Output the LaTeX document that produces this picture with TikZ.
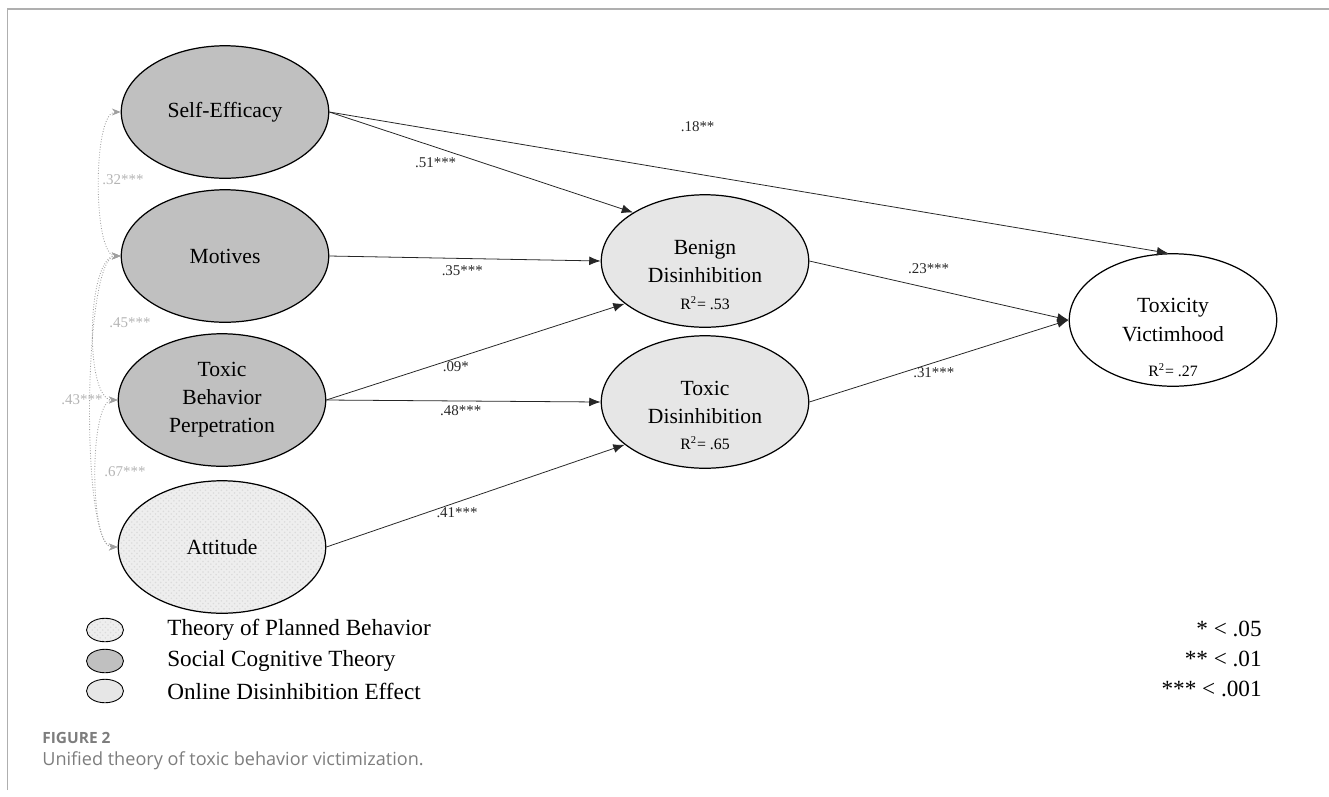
\documentclass[tikz,border=0pt]{standalone}
\usepackage{fontspec}
\setmainfont{Liberation Serif}
\newfontfamily\captionfont{Open Sans}
\usetikzlibrary{shapes.geometric,patterns,arrows.meta}
\definecolor{sctgray}{RGB}{192,192,192}
\definecolor{odegray}{RGB}{230,230,230}
\definecolor{tpbgray}{RGB}{238,238,238}
\definecolor{corrgray}{RGB}{160,160,160}
\definecolor{corrtext}{RGB}{180,180,180}
\definecolor{framegray}{RGB}{175,175,175}
\definecolor{capgray}{RGB}{125,125,125}
\begin{document}
\begin{tikzpicture}
[x=0.02cm,y=-0.02cm,
  constructdecorate/.style={shape=ellipse,draw,line width=0.7pt,minimum width=4.15cm,
    minimum height=2.65cm,inner sep=0pt,align=center,font=\fontsize{12.3}{16}\selectfont},
  sctdecorate/.style={constructdecorate,fill=sctgray},
  odedecorate/.style={constructdecorate,fill=odegray},
  tpbdecorate/.style={constructdecorate,preaction={fill=tpbgray},
    pattern=crosshatch dots,pattern color=gray!28},
  keydecorate/.style={minimum width=0.74cm,minimum height=0.47cm,line width=0.5pt},
  pathdecorate/.style={-{Latex[length=6.5pt,width=5pt]},line width=0.45pt,black!85},
  corrdecorate/.style={{Stealth[length=5pt,width=4pt]}-{Stealth[length=5pt,width=4pt]},
    densely dotted,line width=0.5pt,corrgray},
  weightdecorate/.style={font=\fontsize{8.5}{10}\selectfont,inner sep=1pt},
  corrlabel/.style={font=\fontsize{8.5}{10}\selectfont,text=corrtext,inner sep=1pt},
  rsqdecorate/.style={font=\fontsize{9}{10}\selectfont,inner sep=1pt},
  keytext/.style={font=\fontsize{13.2}{15}\selectfont,inner sep=0pt}]
\useasboundingbox (0,0) rectangle (1329,796);
%% frame
\draw[framegray,line width=1.1pt] (7.5,790) -- (7.5,9) -- (1329,9);
%% constructs
\foreach \nodename/\x/\y/\look/\nodetext in {
  selfefficacy/225/112/sctdecorate/Self-Efficacy,
  motives/225/256/sctdecorate/Motives,
  perpetration/222/400/sctdecorate/{Toxic\\Behavior\\Perpetration},
  attitude/222/547/tpbdecorate/Attitude,
  benign/705/261/odedecorate/{Benign\\Disinhibition},
  toxic/705/402/odedecorate/{Toxic\\Disinhibition},
  victimhood/1173/320/constructdecorate/{Toxicity\\Victimhood}} {
  \node (\nodename) at (\x,\y) [\look] {\nodetext};
}
%% explained variance
\foreach \nodename/\x/\y/\rsq in {benignrsq/705/303/.53,
  toxicrsq/705/443/.65, victimhoodrsq/1173/370/.27} {
  \node (\nodename) at (\x,\y) [rsqdecorate] {R\textsuperscript{2}= \rsq};
}
%% paths
\path
\foreach \startnode/\endnode/\weight/\where/\dy in {
  selfefficacy.east/benign.146/.51***/0.35/15,
  selfefficacy.east/victimhood.94/.18**/0.439/-47,
  motives.east/benign.west/.35***/0.49/12,
  perpetration.east/benign.208/.09*/0.434/8,
  perpetration.east/toxic.west/.48***/0.49/10,
  attitude.east/toxic.208/.41***/0.438/10,
  benign.east/victimhood.west/.23***/0.46/-19,
  toxic.east/victimhood.west/.31***/0.48/10} {
  (\startnode) edge[pathdecorate] node[weightdecorate,pos=\where,shift={(0,\dy)}] {\weight} (\endnode)
};
%% correlations
\foreach \startnode/\endnode/\bow in {selfefficacy/motives/0.5,
  motives/perpetration/0.6, motives/attitude/0.33, perpetration/attitude/0.5} {
  \draw[corrdecorate] (\startnode.west) to[out=180,in=180,looseness=\bow] (\endnode.west);
}
\foreach \nodename/\x/\y/\weight in {corrse/123/180/.32***, corrmo/130/323/.45***,
  corrma/82/400/.43***, corrpa/125/472/.67***} {
  \node (\nodename) at (\x,\y) [corrlabel] {\weight};
}
%% legend
\foreach \nodename/\y/\look/\theory in {
  tpbkey/630/tpbdecorate/Theory of Planned Behavior,
  sctkey/661/sctdecorate/Social Cognitive Theory,
  odekey/691/odedecorate/Online Disinhibition Effect} {
  \node (\nodename) at (105,\y) [\look,keydecorate] {};
  \node (\nodename text) at (167,\y) [anchor=west,keytext] {\theory};
}
\foreach \nodename/\y/\level in {onestar/629/* < .05, twostar/659/** < .01,
  threestar/689/*** < .001} {
  \node (\nodename) at (1262,\y) [anchor=east,keytext] {\level};
}
%% caption
\node (figlabel) at (42,738) [anchor=west,inner sep=0pt,text=capgray,
  font=\fontsize{8.8}{11}\captionfont\bfseries] {FIGURE 2};
\node (figcaption) at (42,761) [anchor=west,inner sep=0pt,text=capgray,
  font=\fontsize{10.3}{12}\captionfont] {Unified theory of toxic behavior victimization.};
\end{tikzpicture}
\end{document}
